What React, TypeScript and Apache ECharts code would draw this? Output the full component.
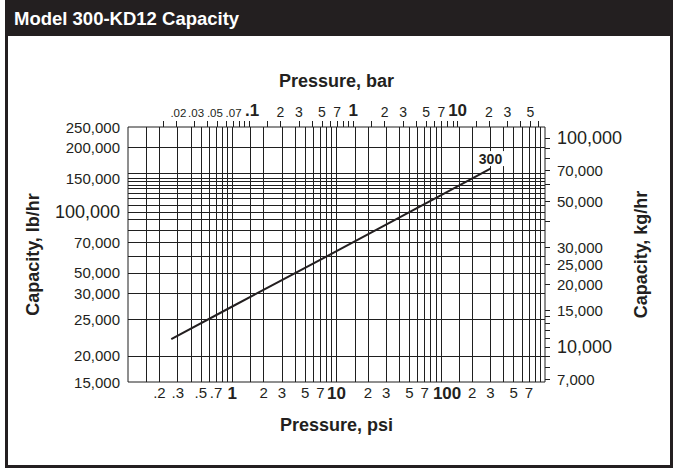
import React, { useEffect, useRef } from "react";
import * as echarts from "echarts";

const TITLE = "Model 300-KD12 Capacity";
const CURVE_NAME = "300";

// Curve: pressure (psi) vs capacity (lb/hr)
const curvePsi = [0.26, 1, 10, 100, 300];
const curveLbHr = [24100, 34500, 63500, 117500, 158000];

// Axis ranges and unit conversions
const PSI_MIN = 0.1;
const PSI_MAX = 1000;
const LB_MIN = 15000;
const LB_MAX = 250000;
const PSI_PER_BAR = 14.5038;
const LB_PER_KG = 2.20462;

// Bottom axis (psi): vertical grid lines and labels
const psiGridLines = [0.15, 0.2, 0.3, 0.4, 0.5, 0.6, 0.7, 0.8, 0.9, 1, 1.5, 2, 3, 4, 5, 6, 7, 8, 9, 10, 15, 20, 30, 40, 50, 60, 70, 80, 90, 100, 150, 200, 300, 400, 500, 600, 700, 800, 900];
const psiLabelValues = [0.2, 0.3, 0.5, 0.7, 1, 2, 3, 5, 7, 10, 20, 30, 50, 70, 115, 200, 300, 500, 700];
const psiLabelTexts = [".2", ".3", ".5", ".7", "1", "2", "3", "5", "7", "10", "2", "3", "5", "7", "100", "2", "3", "5", "7"];
const psiLabelStyles = ["r", "r", "r", "r", "b", "r", "r", "r", "r", "b", "r", "r", "r", "r", "b", "r", "r", "r", "r"];

// Top axis (bar): ticks and labels
const barTickValues = [0.015, 0.02, 0.03, 0.04, 0.05, 0.06, 0.07, 0.08, 0.09, 0.1, 0.15, 0.2, 0.3, 0.4, 0.5, 0.6, 0.7, 0.8, 0.9, 1, 1.5, 2, 3, 4, 5, 6, 7, 8, 9, 10, 15, 20, 30, 40, 50, 60];
const barLabelValues = [0.021, 0.031, 0.047, 0.071, 0.107, 0.2, 0.3, 0.5, 0.7, 1, 2, 3, 5, 7, 10, 20, 30, 50];
const barLabelTexts = [".02", ".03", ".05", ".07", ".1", "2", "3", "5", "7", "1", "2", "3", "5", "7", "10", "2", "3", "5"];
const barLabelStyles = ["s", "s", "s", "s", "b", "r", "r", "r", "r", "b", "r", "r", "r", "r", "b", "r", "r", "r"];

// Left axis (lb/hr): horizontal grid lines and labels
const lbGridLines = [200000, 150000, 142000, 138000, 132000, 127000, 121000, 114000, 106000, 98000, 90000, 80000, 70000, 60000, 50000, 40000, 30000, 20000];
const lbLabelValues = [250000, 200000, 142000, 98000, 70000, 50000, 40000, 30000, 20000, 15000];
const lbLabelTexts = ["250,000", "200,000", "150,000", "100,000", "70,000", "50,000", "30,000", "25,000", "20,000", "15,000"];
const lbLabelStyles = ["r", "r", "r", "b", "r", "r", "r", "r", "r", "r"];

// Right axis (kg/hr): ticks and labels
const kgTickValues = [100000, 90000, 80000, 70000, 60000, 50000, 40000, 30000, 25000, 20000, 15000, 14000, 13000, 12000, 11000, 10000, 9000, 8000, 7000];
const kgLabelValues = [100000, 70000, 50000, 30000, 25000, 20000, 15000, 10000, 7000];
const kgLabelTexts = ["100,000", "70,000", "50,000", "30,000", "25,000", "20,000", "15,000", "10,000", "7,000"];
const kgLabelStyles = ["b", "r", "r", "r", "r", "r", "r", "b", "r"];

const FONT = "'Liberation Sans', Arial, Helvetica, sans-serif";
const INK = "#231f20";
const GRID = "#1f1f1f";

const lg = (v: number) => Math.log10(v);

function makeFormatter(values: number[], texts: string[], styles: string[]) {
  const logs = values.map(lg);
  return (value: number) => {
    const i = logs.findIndex((a) => Math.abs(a - value) < 1e-6);
    if (i < 0) return "";
    return "{" + styles[i] + "|" + texts[i] + "}";
  };
}

const nameStyle = {
  fontFamily: FONT,
  fontSize: 18,
  fontWeight: "bold" as const,
  color: INK,
};

export default function App() {
  const ref = useRef<HTMLDivElement>(null);

  useEffect(() => {
    document.body.style.margin = "0";
    if (!ref.current) return;
    const chart = echarts.init(ref.current, undefined, { renderer: "svg" });

    const lastIdx = curvePsi.length - 1;
    const lineData = curvePsi.map((p, i) => {
      const item: any = { value: [lg(p), lg(curveLbHr[i])] };
      if (i === lastIdx) {
        item.symbol = "circle";
        item.symbolSize = 1;
        item.label = {
          show: true,
          position: "top",
          distance: 2,
          formatter: CURVE_NAME,
          fontFamily: FONT,
          fontSize: 14,
          fontWeight: "bold",
          color: INK,
          backgroundColor: "#ffffff",
          padding: [1, 2, 0, 2],
        };
      }
      return item;
    });

    const option: any = {
      animation: false,
      backgroundColor: "#ffffff",
      title: {
        text: TITLE,
        left: 14,
        top: 9,
        padding: 0,
        textStyle: {
          fontFamily: FONT,
          fontSize: 18.5,
          fontWeight: "bold",
          color: "#ffffff",
        },
      },
      graphic: [
        {
          type: "rect",
          z: 0,
          shape: { x: 5, y: 0, width: 668, height: 36 },
          style: { fill: INK },
        },
        {
          type: "rect",
          z: 0,
          shape: { x: 6.5, y: -5, width: 665, height: 471.5 },
          style: { fill: "none", stroke: INK, lineWidth: 3 },
        },
      ],
      grid: {
        left: 128,
        top: 127,
        width: 417,
        height: 255,
        show: true,
        borderColor: GRID,
        borderWidth: 1,
        containLabel: false,
        outerBoundsMode: "none",
      },
      xAxis: [
        {
          type: "value",
          position: "bottom",
          min: lg(PSI_MIN),
          max: lg(PSI_MAX),
          axisLine: { show: false, onZero: false },
          axisTick: { show: false, customValues: psiGridLines.map(lg) },
          splitLine: { show: true, lineStyle: { color: GRID, width: 1 } },
          axisLabel: {
            customValues: psiLabelValues.map(lg),
            showMinLabel: true,
            showMaxLabel: true,
            margin: 3,
            color: INK,
            formatter: makeFormatter(psiLabelValues, psiLabelTexts, psiLabelStyles),
            rich: {
              r: { fontFamily: FONT, fontSize: 15, color: INK },
              b: { fontFamily: FONT, fontSize: 17, fontWeight: "bold", color: INK },
            },
          },
          name: "Pressure, psi",
          nameLocation: "middle",
          nameGap: 34,
          nameMoveOverlap: false,
          nameTextStyle: nameStyle,
        },
        {
          type: "value",
          position: "top",
          min: lg(PSI_MIN / PSI_PER_BAR),
          max: lg(PSI_MAX / PSI_PER_BAR),
          axisLine: { show: false, onZero: false },
          axisTick: {
            show: true,
            inside: false,
            length: 6,
            customValues: barTickValues.map(lg),
            lineStyle: { color: GRID, width: 1 },
          },
          splitLine: { show: false },
          axisLabel: {
            customValues: barLabelValues.map(lg),
            showMinLabel: true,
            showMaxLabel: true,
            margin: 8,
            color: INK,
            formatter: makeFormatter(barLabelValues, barLabelTexts, barLabelStyles),
            rich: {
              s: { fontFamily: FONT, fontSize: 11.5, color: INK },
              r: { fontFamily: FONT, fontSize: 14, color: INK },
              b: { fontFamily: FONT, fontSize: 17, fontWeight: "bold", color: INK },
            },
          },
          name: "Pressure, bar",
          nameLocation: "middle",
          nameGap: 37,
          nameMoveOverlap: false,
          nameTextStyle: nameStyle,
        },
      ],
      yAxis: [
        {
          type: "value",
          position: "left",
          min: lg(LB_MIN),
          max: lg(LB_MAX),
          axisLine: { show: false, onZero: false },
          axisTick: { show: false, customValues: lbGridLines.map(lg) },
          splitLine: { show: true, lineStyle: { color: GRID, width: 1 } },
          axisLabel: {
            customValues: lbLabelValues.map(lg),
            showMinLabel: true,
            showMaxLabel: true,
            margin: 8,
            color: INK,
            formatter: makeFormatter(lbLabelValues, lbLabelTexts, lbLabelStyles),
            rich: {
              r: { fontFamily: FONT, fontSize: 15, color: INK },
              b: { fontFamily: FONT, fontSize: 18, color: INK },
            },
          },
          name: "Capacity, lb/hr",
          nameLocation: "middle",
          nameGap: 86,
          nameMoveOverlap: false,
          nameTextStyle: nameStyle,
        },
        {
          type: "value",
          position: "right",
          min: lg(LB_MIN / LB_PER_KG),
          max: lg(LB_MAX / LB_PER_KG),
          axisLine: { show: false, onZero: false },
          axisTick: {
            show: true,
            inside: false,
            length: 5,
            customValues: kgTickValues.map(lg),
            lineStyle: { color: GRID, width: 1 },
          },
          splitLine: { show: false },
          axisLabel: {
            customValues: kgLabelValues.map(lg),
            showMinLabel: true,
            showMaxLabel: true,
            margin: 12,
            color: INK,
            formatter: makeFormatter(kgLabelValues, kgLabelTexts, kgLabelStyles),
            rich: {
              r: { fontFamily: FONT, fontSize: 15, color: INK },
              b: { fontFamily: FONT, fontSize: 18, color: INK },
            },
          },
          name: "Capacity, kg/hr",
          nameLocation: "middle",
          nameGap: 87,
          nameMoveOverlap: false,
          nameTextStyle: nameStyle,
        },
      ],
      series: [
        {
          name: CURVE_NAME,
          type: "line",
          xAxisIndex: 0,
          yAxisIndex: 0,
          data: lineData,
          symbol: "none",
          showSymbol: true,
          itemStyle: { color: INK },
          lineStyle: { color: INK, width: 2 },
          z: 5,
        },
      ],
    };

    chart.setOption(option);
    return () => chart.dispose();
  }, []);

  return <div ref={ref} style={{ width: 673, height: 470 }} />;
}
